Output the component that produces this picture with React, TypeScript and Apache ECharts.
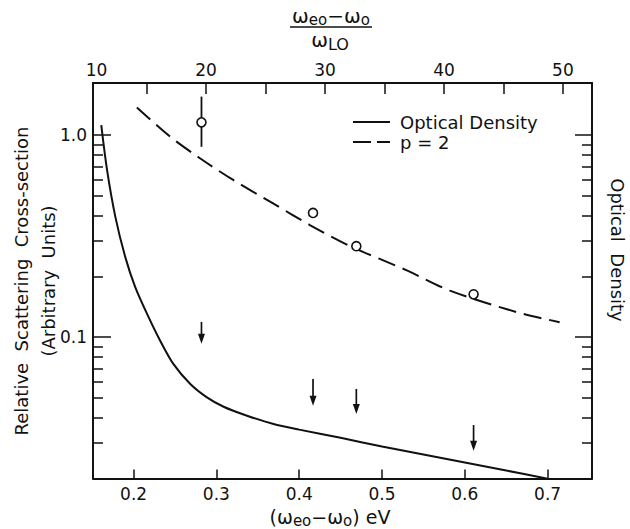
import React, { useEffect, useRef } from 'react';
import * as echarts from 'echarts';

// Optical density curve (solid)
const odX = [0.161, 0.168, 0.178, 0.19, 0.202, 0.218, 0.232, 0.248, 0.2685, 0.2886, 0.3087, 0.337, 0.369, 0.4, 0.45, 0.5, 0.55, 0.6, 0.65, 0.7];
const odY = [1.12, 0.671, 0.394, 0.249, 0.177, 0.126, 0.0963, 0.0738, 0.0587, 0.0504, 0.0453, 0.0409, 0.0372, 0.0349, 0.0318, 0.0288, 0.0263, 0.024, 0.0219, 0.01995];
// p = 2 curve (dashed)
const p2X = [0.204, 0.2443, 0.2806, 0.3208, 0.369, 0.4134, 0.4617, 0.53, 0.582, 0.663, 0.7145];
const p2Y = [1.37, 0.981, 0.766, 0.598, 0.458, 0.358, 0.282, 0.214, 0.17, 0.133, 0.1187];
// measured points (open circles)
const ptX = [0.282, 0.4167, 0.469, 0.6106];
const ptY = [1.156, 0.412, 0.282, 0.163];
// error bar on the first point
const errX = [0.282];
const errHi = [1.55];
const errLo = [0.875];
// upper-limit arrows
const arX = [0.282, 0.4167, 0.469, 0.6106];
const arTop = [0.119, 0.0622, 0.0555, 0.0368];
const arTip = [0.0927, 0.0458, 0.0417, 0.0274];

// axes
const xMin = 0.151;
const xMax = 0.7536;
const yMin = 0.02;
const yMax = 1.81;
const omegaLO = 0.01437;
const bottomTicks = [0.2, 0.3, 0.4, 0.5, 0.6, 0.7];
const topTicks = [15, 20, 25, 30, 35, 40, 45, 50];
const topLabels = [10.8, 20, 30, 40, 50];
const yMajor = [0.1, 1];
const yMinor = [0.03, 0.04, 0.05, 0.06, 0.07, 0.08, 0.09, 0.2, 0.3, 0.4, 0.5, 0.6, 0.7, 0.8, 0.9];
const legendNames = ['Optical Density', 'p = 2'];

const FONT = "'DejaVu Sans', sans-serif";
const INK = '#111';

export default function App() {
  const ref = useRef<HTMLDivElement>(null);
  useEffect(() => {
    document.body.style.margin = '0';
    const chart = echarts.init(ref.current!, null, { renderer: 'svg' });
    const axisLine = { show: true, lineStyle: { color: INK, width: 1.8 } };
    const yAxisBase = (pos: string, ticks: number[], len: number, labels: boolean) => ({
      type: 'log',
      position: pos,
      min: yMin,
      max: yMax,
      axisLine,
      splitLine: { show: false },
      axisTick: { show: true, inside: true, length: len, customValues: ticks, lineStyle: { color: INK, width: 1.5 } },
      axisLabel: labels
        ? {
            show: true,
            customValues: yMajor,
            margin: 6,
            fontSize: 17,
            fontFamily: FONT,
            color: INK,
            formatter: (v: number) => (v > 0.5 ? '1.0' : '0.1'),
          }
        : { show: false },
    });
    const option: any = {
      animation: false,
      grid: { left: 93, right: 38, top: 83, bottom: 50.5 },
      xAxis: [
        {
          type: 'value',
          position: 'bottom',
          min: xMin,
          max: xMax,
          axisLine,
          splitLine: { show: false },
          axisTick: { show: true, inside: true, length: 9, customValues: bottomTicks, lineStyle: { color: INK, width: 1.5 } },
          axisLabel: {
            customValues: bottomTicks,
            margin: 7,
            fontSize: 17,
            fontFamily: FONT,
            color: INK,
            formatter: (v: number) => v.toFixed(1),
          },
        },
        {
          type: 'value',
          position: 'top',
          min: xMin / omegaLO,
          max: xMax / omegaLO,
          axisLine,
          splitLine: { show: false },
          axisTick: { show: true, inside: true, length: 11, customValues: topTicks, lineStyle: { color: INK, width: 1.5 } },
          axisLabel: {
            customValues: topLabels,
            margin: 5,
            fontSize: 17,
            fontFamily: FONT,
            color: INK,
            formatter: (v: number) => (v < 11 ? '10' : String(Math.round(v))),
          },
        },
      ],
      yAxis: [
        yAxisBase('left', yMajor, 18, true),
        yAxisBase('left', yMinor, 10, false),
        yAxisBase('right', yMajor, 17, false),
        yAxisBase('right', yMinor, 10, false),
      ],
      graphic: [
        {
          type: 'text',
          x: 21,
          y: 281,
          rotation: Math.PI / 2,
          style: { text: 'Relative  Scattering  Cross-section', fontSize: 18, fontFamily: FONT, fill: INK, align: 'center', verticalAlign: 'middle' },
        },
        {
          type: 'text',
          x: 48,
          y: 281,
          rotation: Math.PI / 2,
          style: { text: '(Arbitrary  Units)', fontSize: 18, fontFamily: FONT, fill: INK, align: 'center', verticalAlign: 'middle' },
        },
        {
          type: 'text',
          x: 617,
          y: 250,
          rotation: -Math.PI / 2,
          style: { text: 'Optical  Density', fontSize: 18, fontFamily: FONT, fill: INK, align: 'center', verticalAlign: 'middle' },
        },
        {
          type: 'text',
          x: 331,
          y: 16,
          style: {
            text: '{w|ω}{s|eo}{w|−ω}{s|o}',
            align: 'center',
            verticalAlign: 'middle',
            fill: INK,
            rich: {
              w: { fontSize: 20, fontFamily: FONT, fill: INK, lineHeight: 22 },
              s: { fontSize: 15, fontFamily: FONT, fill: INK, lineHeight: 12, verticalAlign: 'bottom' },
            },
          },
        },
        {
          type: 'line',
          shape: { x1: 290, y1: 27, x2: 372, y2: 27 },
          style: { stroke: INK, lineWidth: 1.5 },
        },
        {
          type: 'text',
          x: 330,
          y: 41,
          style: {
            text: '{w|ω}{L|LO}',
            align: 'center',
            verticalAlign: 'middle',
            fill: INK,
            rich: {
              w: { fontSize: 20, fontFamily: FONT, fill: INK, lineHeight: 22, verticalAlign: 'top' },
              L: { fontSize: 16, fontFamily: FONT, fill: INK, lineHeight: 14, verticalAlign: 'bottom' },
            },
          },
        },
        {
          type: 'text',
          x: 330,
          y: 517,
          style: {
            text: '{w|(ω}{s|eo}{w|−ω}{s|o}{w|) eV}',
            align: 'center',
            verticalAlign: 'middle',
            fill: INK,
            rich: {
              w: { fontSize: 19, fontFamily: FONT, fill: INK, lineHeight: 22 },
              s: { fontSize: 15, fontFamily: FONT, fill: INK, lineHeight: 12, verticalAlign: 'bottom' },
            },
          },
        },
        // legend
        {
          type: 'line',
          shape: { x1: 353, y1: 122, x2: 390, y2: 122 },
          style: { stroke: INK, lineWidth: 2 },
        },
        {
          type: 'line',
          shape: { x1: 353, y1: 142, x2: 390, y2: 142 },
          style: { stroke: INK, lineWidth: 2, lineDash: [18, 6] },
        },
        {
          type: 'text',
          x: 400,
          y: 122,
          style: { text: legendNames[0], fontSize: 18, fontFamily: FONT, fill: INK, align: 'left', verticalAlign: 'middle' },
        },
        {
          type: 'text',
          x: 400,
          y: 142,
          style: { text: legendNames[1], fontSize: 18, fontFamily: FONT, fill: INK, align: 'left', verticalAlign: 'middle' },
        },
      ],
      series: [
        {
          name: legendNames[0],
          type: 'line',
          xAxisIndex: 0,
          yAxisIndex: 0,
          data: odX.map((x, i) => [x, odY[i]]),
          smooth: 0.3,
          symbol: 'none',
          lineStyle: { color: INK, width: 2 },
          itemStyle: { color: INK },
        },
        {
          name: legendNames[1],
          type: 'line',
          xAxisIndex: 0,
          yAxisIndex: 0,
          data: p2X.map((x, i) => [x, p2Y[i]]),
          smooth: 0.3,
          symbol: 'none',
          lineStyle: { color: INK, width: 2, type: [18, 8] },
          itemStyle: { color: INK },
        },
        {
          type: 'custom',
          xAxisIndex: 0,
          yAxisIndex: 0,
          encode: { x: 0, y: [1, 2] },
          data: errX.map((x, i) => [x, errHi[i], errLo[i]]),
          renderItem: (params: any, api: any) => {
            const a = api.coord([api.value(0), api.value(1)]);
            const b = api.coord([api.value(0), api.value(2)]);
            return {
              type: 'line',
              shape: { x1: a[0], y1: a[1], x2: b[0], y2: b[1] },
              style: { stroke: INK, lineWidth: 1.8 },
            };
          },
          z: 3,
        },
        {
          type: 'custom',
          xAxisIndex: 0,
          yAxisIndex: 0,
          encode: { x: 0, y: [1, 2] },
          data: arX.map((x, i) => [x, arTop[i], arTip[i]]),
          renderItem: (params: any, api: any) => {
            const a = api.coord([api.value(0), api.value(1)]);
            const b = api.coord([api.value(0), api.value(2)]);
            return {
              type: 'group',
              children: [
                { type: 'line', shape: { x1: a[0], y1: a[1], x2: b[0], y2: b[1] - 6 }, style: { stroke: INK, lineWidth: 1.7 } },
                {
                  type: 'polygon',
                  shape: { points: [[b[0] - 3.5, b[1] - 10], [b[0] + 3.5, b[1] - 10], [b[0], b[1]]] },
                  style: { fill: INK },
                },
              ],
            };
          },
          z: 3,
        },
        {
          type: 'scatter',
          xAxisIndex: 0,
          yAxisIndex: 0,
          data: ptX.map((x, i) => [x, ptY[i]]),
          symbol: 'circle',
          symbolSize: 9,
          itemStyle: { color: '#fff', borderColor: INK, borderWidth: 1.6, opacity: 1 },
          z: 5,
        },
      ],
    };
    chart.setOption(option);
    return () => chart.dispose();
  }, []);
  return <div ref={ref} style={{ width: 630, height: 529 }} />;
}
